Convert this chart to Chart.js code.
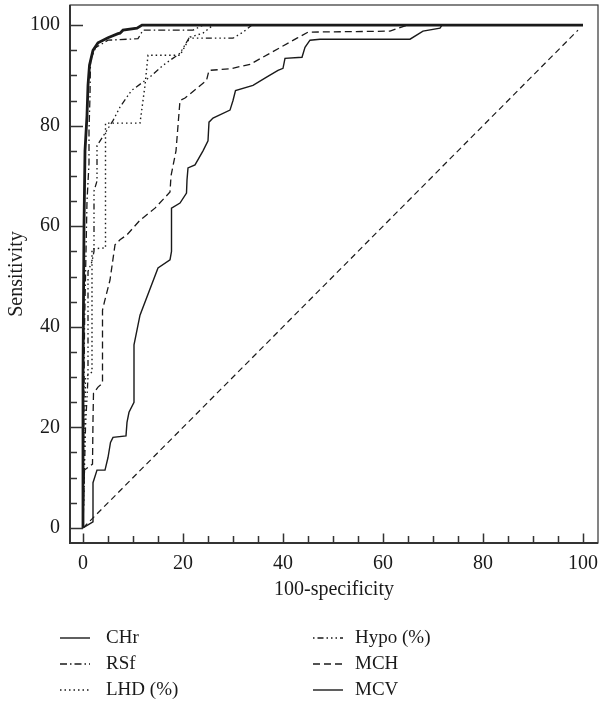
<!DOCTYPE html>
<html><head><meta charset="utf-8">
<script src="https://cdn.jsdelivr.net/npm/chart.js@4"></script>
<style>html,body{margin:0;padding:0;background:#fff}</style>
</head><body>
<canvas id="c" width="600" height="702" style="width:600px;height:702px"></canvas>
<script>
// ---- data (x = 100-specificity, y = sensitivity) ----
const seriesNames = ['CHr', 'RSf', 'LHD (%)', 'Hypo (%)', 'MCH', 'MCV'];
const chrPts = [[0,0],[0,30],[0.2,60],[0.4,75],[0.8,82],[1.0,88],[1.3,92],[2,95],[3,96.5],[5,97.5],[7,98.3],[7.4,98.4],[8,99],[10.8,99.4],[11.8,100],[100,100]];
const rsfPts = [[0,0],[0.3,40],[0.8,65],[1.2,72.5],[1.2,79],[1.4,86],[1.5,93],[2.5,95.5],[5,97],[11,97.3],[12,99],[22,99],[24,100],[100,100]];
const lhdPts = [[0,0],[0.3,15],[0.5,30],[1.8,31],[1.8,55.5],[4.5,55.7],[4.5,80.5],[11.4,80.5],[12.4,88],[13,94],[19.4,94],[21.4,97.6],[24,98.4],[26,100],[100,100]];
const hypoPts = [[0,0],[0.5,20],[1,30],[1,51],[1.8,53],[2.2,55],[2.2,67],[2.8,69],[2.8,76],[4.4,78.5],[6,81],[7.4,83.7],[9.7,87],[13.4,89.7],[16,92],[19.4,94.4],[21.2,97.4],[30,97.4],[32,98.6],[33.8,100],[100,100]];
const mchPts = [[0,0],[0.3,11.5],[1.9,12.7],[2,21.5],[2.1,26.8],[3,28],[3.9,28.8],[3.9,43.3],[4.3,45],[5.4,49.3],[6.4,56.3],[7.4,57.3],[8.8,58.3],[11.4,61.2],[14.4,63.6],[17.4,66.8],[17.6,70],[18.6,75],[19.4,85],[20.4,85.5],[24.7,89],[25.2,91],[29.4,91.3],[33.4,92.2],[37.4,94.4],[42.8,97.4],[45,98.6],[61.4,98.8],[64.8,100],[100,100]];
const mcvPts = [[0,0],[2,1.2],[2,9],[2.8,11.5],[4.4,11.5],[5,14],[5.5,17],[6,18],[8.6,18.3],[8.8,21],[9.2,23],[10.2,25],[10.2,36.4],[11.4,42.3],[15,51.7],[17.4,53.3],[17.7,55],[17.7,63.6],[19.4,64.6],[20.7,66.6],[20.8,69.2],[21,71.6],[22.4,72.2],[24,75],[25,77],[25.2,80.7],[26,81.5],[29.4,83.1],[30,85],[30.5,87],[34,88],[36.8,89.7],[39,91],[40,91.4],[40.4,93.4],[43.8,93.6],[44.4,95.6],[45.4,97],[47.4,97.2],[65.4,97.2],[68,98.8],[71.4,99.4],[71.8,100],[100,100]];
const refPts = [[0,0],[99,99]];
const xTickValues = [0,5,10,15,20,25,30,35,40,45,50,55,60,65,70,75,80,85,90,95,100];
const yTickValues = [0,5,10,15,20,25,30,35,40,45,50,55,60,65,70,75,80,85,90,95,100];
const majorTickLabels = [0,20,40,60,80,100];

const toXY = a => a.map(p => ({x: p[0], y: p[1]}));
const INK = '#1a1a1a';
const FONT = '"Liberation Serif", "DejaVu Serif", serif';

const styles = [
  {w: 2.8, dash: []},
  {w: 1.3, dash: [7,3,1.5,3]},
  {w: 1.4, dash: [1.5,3]},
  {w: 1.3, dash: [1.5,3,6,3,1.5,3,1.5,3]},
  {w: 1.3, dash: [7,4]},
  {w: 1.4, dash: []}
];
const seriesPts = [chrPts, rsfPts, lhdPts, hypoPts, mchPts, mcvPts];
const datasets = seriesPts.map((pts, i) => ({
  label: seriesNames[i], data: toXY(pts), borderColor: INK, borderWidth: styles[i].w,
  borderDash: styles[i].dash, pointRadius: 0, showLine: true, fill: false, tension: 0
}));
datasets.push({label: 'ref', data: toXY(refPts), borderColor: INK, borderWidth: 1.2, borderDash: [6,4], pointRadius: 0, showLine: true, fill: false});

const noPad = s => { s.paddingLeft = 0; s.paddingRight = 0; s.paddingTop = 0; s.paddingBottom = 0; };

const framePlugin = {
  id: 'frame',
  afterDraw(chart) {
    const {ctx, chartArea: a, scales: {x, y}} = chart;
    ctx.save();
    ctx.strokeStyle = '#333';
    ctx.lineWidth = 1.2;
    ctx.strokeRect(a.left, a.top, a.right - a.left, a.bottom - a.top);
    ctx.lineWidth = 2;
    ctx.beginPath();
    ctx.moveTo(a.left, a.top); ctx.lineTo(a.left, a.bottom); ctx.lineTo(a.right, a.bottom);
    ctx.stroke();
    ctx.lineWidth = 1.5;
    ctx.beginPath();
    xTickValues.forEach(v => {
      const px = Math.round(x.getPixelForValue(v)) + 0.5;
      const len = v % 20 === 0 ? 9.5 : 7;
      ctx.moveTo(px, a.bottom); ctx.lineTo(px, a.bottom - len);
    });
    yTickValues.forEach(v => {
      const py = Math.round(y.getPixelForValue(v)) + 0.5;
      const len = v % 20 === 0 ? 13 : 7;
      ctx.moveTo(a.left, py); ctx.lineTo(a.left + len, py);
    });
    ctx.stroke();
    // legend
    ctx.font = '19px ' + FONT;
    ctx.fillStyle = INK;
    ctx.textBaseline = 'middle';
    chart.data.datasets.slice(0, 6).forEach((ds, i) => {
      const col = i < 3 ? 0 : 1, row = i % 3;
      const lx = col === 0 ? 60 : 313;
      const ly = 638 + row * 26;
      ctx.strokeStyle = INK;
      ctx.lineWidth = 1.4;
      ctx.setLineDash(ds.borderDash);
      ctx.beginPath(); ctx.moveTo(lx, ly); ctx.lineTo(lx + 30, ly); ctx.stroke();
      ctx.setLineDash([]);
      ctx.fillText(ds.label, lx + (col === 0 ? 46 : 42), ly);
    });
    ctx.restore();
  }
};

new Chart(document.getElementById('c'), {
  type: 'scatter',
  data: {datasets},
  options: {
    responsive: false, animation: false, devicePixelRatio: 1,
    layout: {padding: {top: 5, right: 2, bottom: 99, left: 0}},
    plugins: {legend: {display: false}, tooltip: {enabled: false}},
    scales: {
      x: {
        type: 'linear', min: -2.6, max: 103,
        grid: {display: false, drawTicks: false}, border: {display: false},
        afterBuildTicks: s => { s.ticks = xTickValues.map(v => ({value: v})); },
        afterFit: s => { s.height = 60; noPad(s); },
        ticks: {autoSkip: false, maxRotation: 0, padding: 9, color: INK, font: {family: FONT, size: 20},
          callback: v => majorTickLabels.includes(v) ? String(v) : ''},
        title: {display: true, text: '100-specificity', color: INK, font: {family: FONT, size: 20}, padding: {top: 0, bottom: 1}}
      },
      y: {
        type: 'linear', min: -3, max: 104,
        grid: {display: false, drawTicks: false}, border: {display: false},
        afterBuildTicks: s => { s.ticks = yTickValues.map(v => ({value: v})); },
        afterFit: s => { s.width = 70; noPad(s); },
        ticks: {autoSkip: false, padding: 10, color: INK, font: {family: FONT, size: 20},
          callback: v => majorTickLabels.includes(v) ? String(v) : ''},
        title: {display: true, text: 'Sensitivity', color: INK, font: {family: FONT, size: 20}, padding: {top: 5, bottom: 0}}
      }
    }
  },
  plugins: [framePlugin]
});
</script>
</body></html>
